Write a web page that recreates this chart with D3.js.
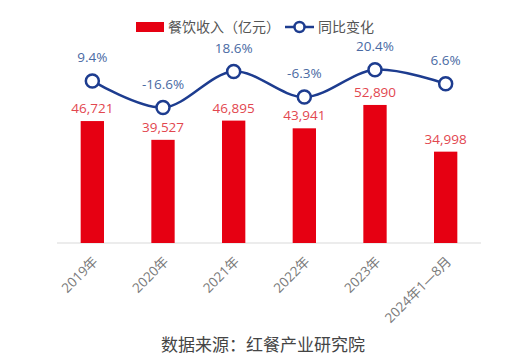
<!DOCTYPE html>
<html><head><meta charset="utf-8">
<script src="https://cdn.jsdelivr.net/npm/d3@7"></script>
<style>
html,body{margin:0;padding:0;background:#fff;}
svg{display:block;font-family:"Open Sans","Noto Sans CJK SC",sans-serif;}
</style></head>
<body>
<svg id="c" width="530" height="360"></svg>
<script>
const categories = ["2019年","2020年","2021年","2022年","2023年","2024年1—8月"];
const revenue = [46721, 39527, 46895, 43941, 52890, 34998];
const revenueLabels = ["46,721","39,527","46,895","43,941","52,890","34,998"];
const growth = [9.4, -16.6, 18.6, -6.3, 20.4, 6.6];
const growthLabels = ["9.4%","-16.6%","18.6%","-6.3%","20.4%","6.6%"];
const legendNames = ["餐饮收入（亿元）","同比变化"];
const sourceText = "数据来源：红餐产业研究院";

const svg = d3.select("#c");
const x = d3.scaleBand().domain(categories).range([57,481]).paddingInner(0.67).paddingOuter(0.335);
const y = d3.scaleLinear().domain([0,60000]).range([243,86.4]);
const y2 = d3.scaleLinear().domain([-20,25]).range([111,65]);
const cx = d => x(d) + x.bandwidth()/2;

const red = "#e60012", navy = "#1d3c8f";

// baseline
svg.append("line").attr("x1",57).attr("x2",481).attr("y1",y(0)).attr("y2",y(0))
  .attr("stroke","#d9d9d9").attr("stroke-width",1);

// bars
svg.selectAll("rect.bar").data(revenue).enter().append("rect").attr("class","bar")
  .attr("x",(d,i)=>x(categories[i])).attr("width",x.bandwidth())
  .attr("y",d=>y(d)).attr("height",d=>y(0)-y(d)).attr("fill",red);

// bar labels
svg.selectAll("text.bl").data(revenue).enter().append("text").attr("class","bl")
  .attr("x",(d,i)=>cx(categories[i])).attr("y",d=>y(d)-8)
  .attr("text-anchor","middle").attr("font-size",13.5).attr("fill","#e2474f")
  .text((d,i)=>revenueLabels[i]);

// line
const line = d3.line().x((d,i)=>cx(categories[i])).y(d=>y2(d)).curve(d3.curveCatmullRom.alpha(0.5));
svg.append("path").datum(growth).attr("d",line).attr("fill","none")
  .attr("stroke",navy).attr("stroke-width",2.5);
svg.selectAll("circle.pt").data(growth).enter().append("circle").attr("class","pt")
  .attr("cx",(d,i)=>cx(categories[i])).attr("cy",d=>y2(d)).attr("r",6.5)
  .attr("fill","#fff").attr("stroke",navy).attr("stroke-width",2.5);
svg.selectAll("text.gl").data(growth).enter().append("text").attr("class","gl")
  .attr("x",(d,i)=>cx(categories[i])).attr("y",d=>y2(d)-19)
  .attr("text-anchor","middle").attr("font-size",13.5).attr("fill","#4a6aa3")
  .text((d,i)=>growthLabels[i]);

// x labels
svg.selectAll("text.xl").data(categories).enter().append("text").attr("class","xl")
  .attr("transform",d=>`translate(${cx(d)+3},${259}) rotate(-45)`)
  .attr("text-anchor","end").attr("dy","0.35em").attr("font-size",13.5).attr("fill","#7a7a7a")
  .text(d=>d);

// legend
const lg = svg.append("g");
lg.append("rect").attr("x",136).attr("y",22).attr("width",28).attr("height",10).attr("fill",red);
lg.append("text").attr("x",168).attr("y",32).attr("font-size",14).attr("fill","#555").text(legendNames[0]);
lg.append("line").attr("x1",285).attr("x2",314).attr("y1",27).attr("y2",27).attr("stroke",navy).attr("stroke-width",2.5);
lg.append("circle").attr("cx",299.5).attr("cy",27).attr("r",5).attr("fill","#fff").attr("stroke",navy).attr("stroke-width",2.5);
lg.append("text").attr("x",318).attr("y",32).attr("font-size",14).attr("fill","#555").text(legendNames[1]);

// source
svg.append("text").attr("x",263).attr("y",351).attr("text-anchor","middle")
  .attr("font-size",17).attr("fill","#444").text(sourceText);
</script>
</body></html>
